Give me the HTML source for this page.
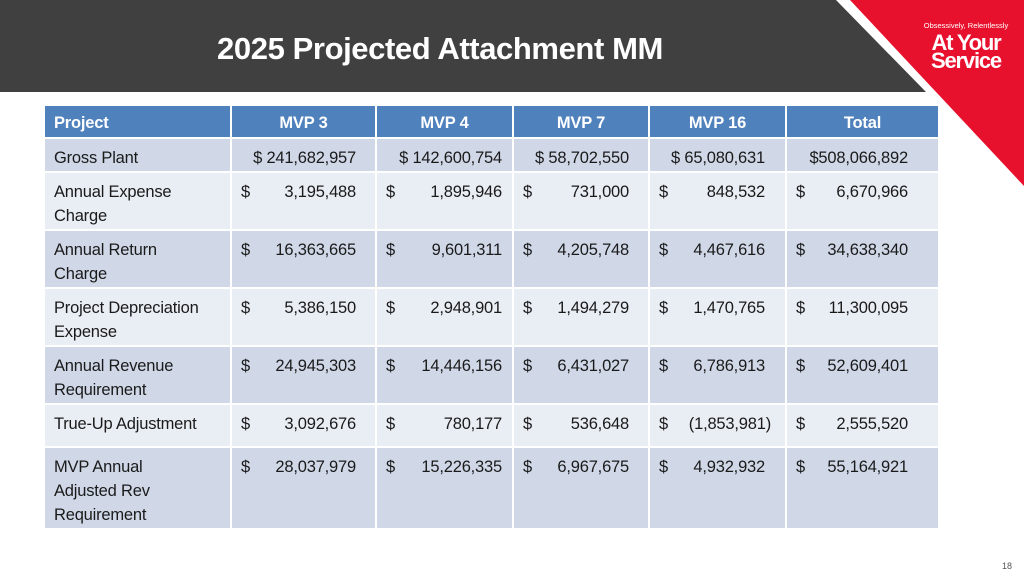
<!DOCTYPE html>
<html><head><meta charset="utf-8"><style>
html,body{margin:0;padding:0;background:#fff;}
body{width:1024px;height:576px;position:relative;overflow:hidden;font-family:"Liberation Sans",Arial,sans-serif;}
#title{position:absolute;left:0;top:31px;width:880px;text-align:center;color:#fff;font-weight:bold;font-size:31px;letter-spacing:-0.4px;}
table{position:absolute;left:43px;top:104px;border-collapse:collapse;table-layout:fixed;font-size:16.5px;color:#1a1a1a;letter-spacing:-0.2px;}
td,th{border:2px solid #fff;padding:0;vertical-align:top;position:relative;}
th{background:#4f81bd;color:#fff;font-weight:bold;height:28px;vertical-align:middle;padding-top:3px;}
th.first{text-align:left;padding-left:9px;}
td.lab{padding:7px 0 0 9px;line-height:24px;}
td.v{padding-top:7px;line-height:24px;}
td.v .d{position:absolute;left:9px;top:7px;}
td.v .n{display:block;text-align:right;}
tr.dk td{background:#d0d8e8;}
tr.lt td{background:#e9edf4;}
#pg{position:absolute;right:12px;bottom:5px;font-size:9px;color:#555;}
</style></head><body>
<svg width="1024" height="576" style="position:absolute;left:0;top:0">
<polygon points="0,0 836,0 926,92 0,92" fill="#404040"/>
<polygon points="850,0 1024,0 1024,186" fill="#e8112d"/>
<text x="966" y="28" fill="#fff" font-size="7.5" text-anchor="middle" font-family="Liberation Sans, sans-serif">Obsessively, Relentlessly</text>
<text x="966" y="50" fill="#fff" font-size="22" font-weight="bold" text-anchor="middle" font-family="Liberation Sans, sans-serif" letter-spacing="-1.2">At Your</text>
<text x="966" y="68" fill="#fff" font-size="22" font-weight="bold" text-anchor="middle" font-family="Liberation Sans, sans-serif" letter-spacing="-1.2">Service</text>
</svg>
<div id="title">2025 Projected Attachment MM</div>
<table>
<colgroup><col style="width:187px"><col style="width:145px"><col style="width:137px"><col style="width:136px"><col style="width:137px"><col style="width:153px"></colgroup>
<tr><th class="first">Project</th><th>MVP 3</th><th>MVP 4</th><th>MVP 7</th><th>MVP 16</th><th>Total</th></tr>
<tr class="dk" style="height:34px"><td class="lab">Gross Plant</td>
<td class="v" style="padding-right:19px"><span class="n">$ 241,682,957</span></td>
<td class="v" style="padding-right:10px"><span class="n">$ 142,600,754</span></td>
<td class="v" style="padding-right:19px"><span class="n">$ 58,702,550</span></td>
<td class="v" style="padding-right:20px"><span class="n">$ 65,080,631</span></td>
<td class="v" style="padding-right:30px"><span class="n">$508,066,892</span></td></tr>
<tr class="lt" style="height:58px"><td class="lab">Annual Expense<br>Charge</td>
<td class="v" style="padding-right:19px"><span class="d">$</span><span class="n">3,195,488</span></td>
<td class="v" style="padding-right:10px"><span class="d">$</span><span class="n">1,895,946</span></td>
<td class="v" style="padding-right:19px"><span class="d">$</span><span class="n">731,000</span></td>
<td class="v" style="padding-right:20px"><span class="d">$</span><span class="n">848,532</span></td>
<td class="v" style="padding-right:30px"><span class="d">$</span><span class="n">6,670,966</span></td></tr>
<tr class="dk" style="height:58px"><td class="lab">Annual Return<br>Charge</td>
<td class="v" style="padding-right:19px"><span class="d">$</span><span class="n">16,363,665</span></td>
<td class="v" style="padding-right:10px"><span class="d">$</span><span class="n">9,601,311</span></td>
<td class="v" style="padding-right:19px"><span class="d">$</span><span class="n">4,205,748</span></td>
<td class="v" style="padding-right:20px"><span class="d">$</span><span class="n">4,467,616</span></td>
<td class="v" style="padding-right:30px"><span class="d">$</span><span class="n">34,638,340</span></td></tr>
<tr class="lt" style="height:58px"><td class="lab">Project Depreciation<br>Expense</td>
<td class="v" style="padding-right:19px"><span class="d">$</span><span class="n">5,386,150</span></td>
<td class="v" style="padding-right:10px"><span class="d">$</span><span class="n">2,948,901</span></td>
<td class="v" style="padding-right:19px"><span class="d">$</span><span class="n">1,494,279</span></td>
<td class="v" style="padding-right:20px"><span class="d">$</span><span class="n">1,470,765</span></td>
<td class="v" style="padding-right:30px"><span class="d">$</span><span class="n">11,300,095</span></td></tr>
<tr class="dk" style="height:58px"><td class="lab">Annual Revenue<br>Requirement</td>
<td class="v" style="padding-right:19px"><span class="d">$</span><span class="n">24,945,303</span></td>
<td class="v" style="padding-right:10px"><span class="d">$</span><span class="n">14,446,156</span></td>
<td class="v" style="padding-right:19px"><span class="d">$</span><span class="n">6,431,027</span></td>
<td class="v" style="padding-right:20px"><span class="d">$</span><span class="n">6,786,913</span></td>
<td class="v" style="padding-right:30px"><span class="d">$</span><span class="n">52,609,401</span></td></tr>
<tr class="lt" style="height:43px"><td class="lab">True-Up Adjustment</td>
<td class="v" style="padding-right:19px"><span class="d">$</span><span class="n">3,092,676</span></td>
<td class="v" style="padding-right:10px"><span class="d">$</span><span class="n">780,177</span></td>
<td class="v" style="padding-right:19px"><span class="d">$</span><span class="n">536,648</span></td>
<td class="v" style="padding-right:14px"><span class="d">$</span><span class="n">(1,853,981)</span></td>
<td class="v" style="padding-right:30px"><span class="d">$</span><span class="n">2,555,520</span></td></tr>
<tr class="dk" style="height:82px"><td class="lab">MVP Annual<br>Adjusted Rev<br>Requirement</td>
<td class="v" style="padding-right:19px"><span class="d">$</span><span class="n">28,037,979</span></td>
<td class="v" style="padding-right:10px"><span class="d">$</span><span class="n">15,226,335</span></td>
<td class="v" style="padding-right:19px"><span class="d">$</span><span class="n">6,967,675</span></td>
<td class="v" style="padding-right:20px"><span class="d">$</span><span class="n">4,932,932</span></td>
<td class="v" style="padding-right:30px"><span class="d">$</span><span class="n">55,164,921</span></td></tr>
</table>
<div id="pg">18</div>
</body></html>
